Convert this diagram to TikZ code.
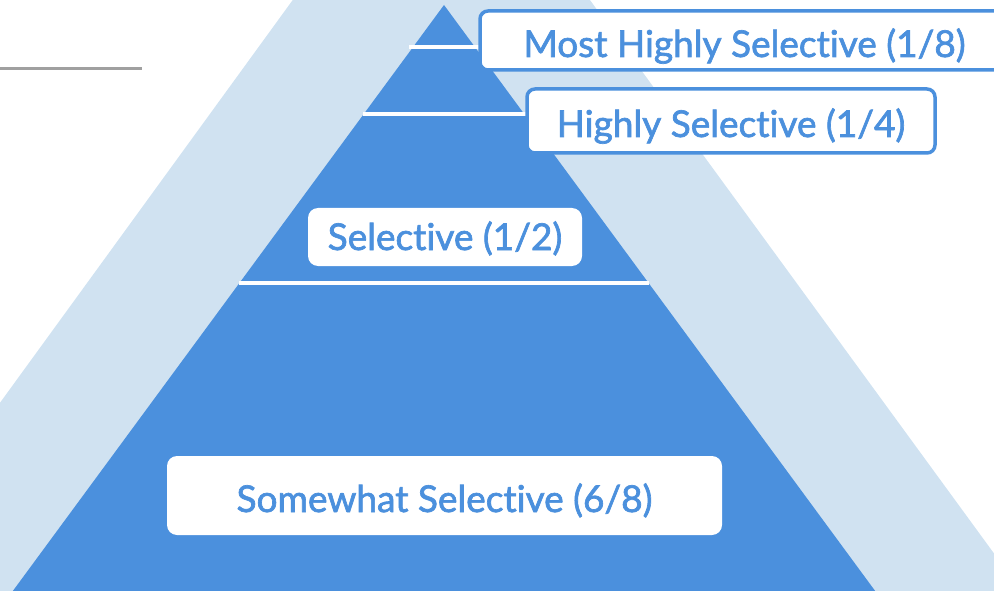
\documentclass[tikz,border=0pt]{standalone}
\usepackage{fontspec}
\setmainfont{Lato}[Ligatures=NoCommon, FakeBold=1.8]
\definecolor{darkblue}{RGB}{75,144,221}
\definecolor{lightband}{RGB}{208,226,241}
\definecolor{rulegray}{RGB}{160,160,160}
\tikzset{
  lbl/.style={text=darkblue, inner sep=0pt, align=center, text depth=0pt,
    font=\fontsize{37}{40}\selectfont},
  bordered/.style={lbl, draw=darkblue, line width=3.5pt, fill=white, rounded corners=8pt},
  plainbox/.style={lbl, fill=white, rounded corners=10pt},
  tier/.style={draw=white, line width=4pt},
}
\begin{document}
\begin{tikzpicture}[x=1pt,y=-1pt]
\useasboundingbox (0,0) rectangle (994,591);
\clip (0,0) rectangle (994,591);
% light background triangle
\fill[lightband] (441,-204) -- (-216,700) -- (1101,700) -- cycle;
% gray rule
\draw[rulegray, line width=3pt] (0,69) -- (142,69);
% dark pyramid
\fill[darkblue] (444,5) -- (4,603) -- (884,603) -- cycle;
% tier lines
\coordinate (l1a) at (409,47); \coordinate (l1b) at (482,47);
\coordinate (l2a) at (363,114); \coordinate (l2b) at (527,114);
\coordinate (l3a) at (239,283); \coordinate (l3b) at (649,283);
\draw[tier] (l1a) -- (l1b);
\draw[tier] (l2a) -- (l2b);
\draw[tier] (l3a) -- (l3b);
% labels
\node[bordered, minimum width=529pt, minimum height=59pt, text height=33pt] (b1) at (744.5,40.5)
  {Most Highly Selective (1/8)};
\node[bordered, minimum width=408pt, minimum height=64pt, text height=32pt] (b2) at (731,121)
  {Highly Selective (1/4)};
\node[plainbox, minimum width=274pt, minimum height=58pt, text height=26pt] (b3) at (445,237)
  {Selective (1/2)};
\node[plainbox, minimum width=555pt, minimum height=79pt, text height=33pt] (b4) at (444.5,495.5)
  {Somewhat Selective (6/8)};
\end{tikzpicture}
\end{document}
